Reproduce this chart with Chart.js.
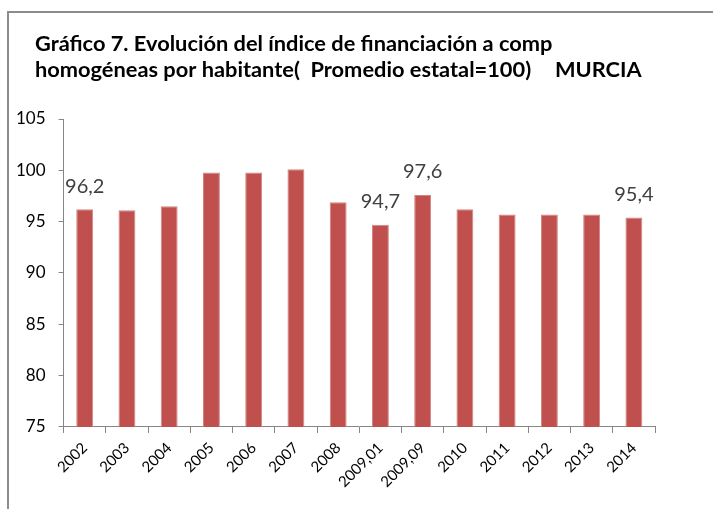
<!DOCTYPE html>
<html>
<head>
<meta charset="utf-8">
<script src="https://cdn.jsdelivr.net/npm/chart.js@4.4.1/dist/chart.umd.min.js"></script>
<style>
  html, body { margin: 0; padding: 0; background: #fff; }
  #frame {
    position: absolute; left: 7px; top: 11px; width: 800px; height: 600px;
    border-left: 2px solid #8c8c8c; border-top: 2px solid #8c8c8c;
  }
  #wrap { position: absolute; left: 0; top: 0; width: 713px; height: 509px; }
</style>
</head>
<body>
<div id="frame"></div>
<div id="wrap"><canvas id="chart" width="713" height="509"></canvas></div>
<script>
// categorías y valores (índice, promedio estatal = 100)
const years = ['2002', '2003', '2004', '2005', '2006', '2007', '2008',
  '2009,01', '2009,09', '2010', '2011', '2012', '2013', '2014'];
const indexValues = [96.2, 96.1, 96.5, 99.8, 99.8, 100.1, 96.9,
  94.7, 97.6, 96.2, 95.7, 95.7, 95.7, 95.4];
// solo algunas barras llevan etiqueta
const labelledBars = [0, 7, 8, 13];
const yTicks = [75, 80, 85, 90, 95, 100, 105];

const titleLine1 = 'Gráfico 7. Evolución del índice de financiación a comp';
const titleLine2 = 'homogéneas por habitante(  Promedio estatal=100)';
const regionName = 'MURCIA';

const font = 'Lato, "Open Sans", sans-serif';

// título a mano (alineado con el marco, no con el eje)
const titleDraw = {
  id: 'titleDraw',
  afterDraw(chart) {
    const ctx = chart.ctx;
    ctx.save();
    ctx.fillStyle = '#000';
    ctx.textBaseline = 'alphabetic';
    ctx.font = 'bold 21.8px ' + font;
    ctx.fillText(titleLine1, 35, 51);
    ctx.fillText(titleLine2, 35, 77);
    ctx.fillText(regionName, 555, 77);
    ctx.restore();
  }
};

// etiquetas de valor encima de ciertas barras
const barLabels = {
  id: 'barLabels',
  afterDatasetsDraw(chart) {
    const ctx = chart.ctx;
    const meta = chart.getDatasetMeta(0);
    ctx.save();
    ctx.font = '20px ' + font;
    ctx.fillStyle = '#404040';
    ctx.textAlign = 'center';
    ctx.textBaseline = 'bottom';
    labelledBars.forEach(function(i) {
      const bar = meta.data[i];
      const txt = indexValues[i].toFixed(1).replace('.', ',');
      ctx.fillText(txt, bar.x, bar.y - 13);
    });
    ctx.restore();
  }
};

new Chart(document.getElementById('chart'), {
  type: 'bar',
  plugins: [barLabels, titleDraw],
  data: {
    labels: years,
    datasets: [{
      data: indexValues,
      backgroundColor: '#C0504D',
      borderColor: '#D08582',
      borderWidth: { top: 1, left: 1, right: 1, bottom: 0 },
      barPercentage: 0.4,
      categoryPercentage: 1.0
    }]
  },
  options: {
    responsive: false,
    animation: false,
    layout: { padding: { left: 3, right: 58, top: 119, bottom: 12 } },
    plugins: {
      legend: { display: false },
      tooltip: { enabled: false },
      title: { display: false }
    },
    scales: {
      x: {
        grid: { drawOnChartArea: false, drawTicks: true, tickLength: 6, color: '#868686', offset: true },
        border: { color: '#868686', width: 1 },
        ticks: { color: '#000', font: { family: font, size: 15 }, minRotation: 45, maxRotation: 45, autoSkip: false, padding: 6 }
      },
      y: {
        min: 75, max: 105,
        afterBuildTicks(scale) { scale.ticks = yTicks.map(v => ({ value: v })); },
        grid: { drawOnChartArea: false, drawTicks: true, tickLength: 5, color: '#868686' },
        border: { color: '#868686', width: 1 },
        ticks: { color: '#000', font: { family: font, size: 17 }, padding: 13 }
      }
    }
  }
});
</script>
</body>
</html>
